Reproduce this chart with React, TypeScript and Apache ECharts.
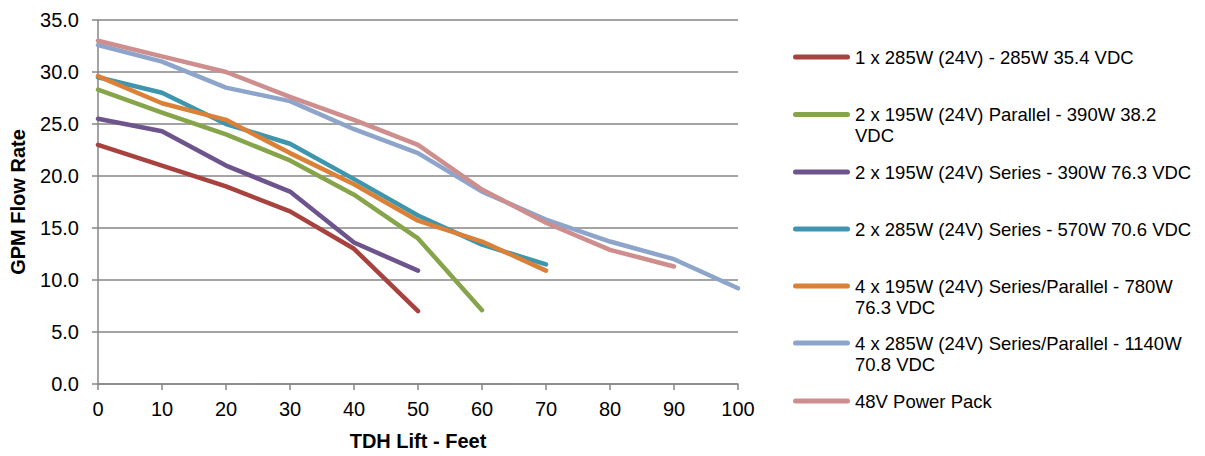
import React, { useEffect, useRef } from "react";
import * as echarts from "echarts";

const xValues = [0, 10, 20, 30, 40, 50, 60, 70, 80, 90, 100];

const seriesNames = [
  "1 x 285W (24V) - 285W 35.4 VDC",
  "2 x 195W (24V) Parallel - 390W 38.2 VDC",
  "2 x 195W (24V) Series - 390W 76.3 VDC",
  "2 x 285W (24V) Series - 570W 70.6 VDC",
  "4 x 195W (24V) Series/Parallel - 780W 76.3 VDC",
  "4 x 285W (24V) Series/Parallel - 1140W 70.8 VDC",
  "48V Power Pack",
];

const red1x285 = [23.0, 21.0, 19.0, 16.6, 13.0, 7.0];
const green2x195Par = [28.3, 26.1, 24.0, 21.5, 18.2, 14.0, 7.1];
const purple2x195Ser = [25.5, 24.3, 21.0, 18.5, 13.6, 10.9];
const teal2x285Ser = [29.5, 28.0, 25.0, 23.1, 19.7, 16.2, 13.4, 11.5];
const orange4x195 = [29.6, 27.0, 25.4, 22.2, 19.2, 15.7, 13.7, 10.9];
const blue4x285 = [32.6, 31.0, 28.5, 27.2, 24.5, 22.2, 18.5, 15.8, 13.7, 12.0, 9.2];
const pinkPowerPack = [33.0, 31.5, 30.0, 27.6, 25.4, 23.0, 18.7, 15.5, 12.9, 11.3];

const seriesValues = [
  red1x285,
  green2x195Par,
  purple2x195Ser,
  teal2x285Ser,
  orange4x195,
  blue4x285,
  pinkPowerPack,
];

// legend label line breaks (display only)
const legendLabels = [
  "1 x 285W (24V) - 285W 35.4 VDC",
  "2 x 195W (24V) Parallel - 390W 38.2\nVDC",
  "2 x 195W (24V) Series - 390W 76.3 VDC",
  "2 x 285W (24V) Series - 570W 70.6 VDC",
  "4 x 195W (24V) Series/Parallel - 780W\n76.3 VDC",
  "4 x 285W (24V) Series/Parallel - 1140W\n70.8 VDC",
  "48V Power Pack",
];

const colors = ["#A8423F", "#86A44A", "#6E548D", "#3D96AE", "#DA8137", "#8EA5CB", "#CE8E8D"];

const yTicks = [0, 5, 10, 15, 20, 25, 30, 35];

export default function App() {
  const ref = useRef<HTMLDivElement>(null);

  useEffect(() => {
    if (!ref.current) return;
    const chart = echarts.init(ref.current, undefined, { renderer: "svg" });
    const font = "'Liberation Sans', Arial, sans-serif";
    const legendCenters = [57, 114.5, 172, 229, 286, 343, 401];
    const L = 21;
    const barIcon = "path://M2.5,0 L54.5,0 A2.5,2.5 0 0 1 54.5,5 L2.5,5 A2.5,2.5 0 0 1 2.5,0 Z";
    const legends = seriesNames.map((name, i) => {
      const twoLine = legendLabels[i].includes("\n");
      const top = twoLine ? legendCenters[i] - 1.5 * L : legendCenters[i] - L / 2;
      return {
        show: true,
        orient: "vertical" as const,
        left: 793,
        top,
        padding: 0,
        itemWidth: 57,
        itemHeight: 5,
        icon: barIcon,
        data: [{ name, icon: barIcon, itemStyle: { color: colors[i] } }],
        selectedMode: false,
        // an empty first line keeps the icon level with the label's first line
        formatter: () => (twoLine ? "\n" + legendLabels[i] : legendLabels[i]),
        textStyle: {
          fontFamily: font,
          fontSize: 18.5,
          lineHeight: L,
          color: "#000",
        },
      };
    });

    chart.setOption({
      animation: false,
      color: colors,
      grid: { left: 96, right: 467, top: 20, bottom: 71, containLabel: false },
      legend: legends,
      xAxis: {
        type: "value",
        min: 0,
        max: 100,
        interval: 10,
        name: "TDH Lift - Feet",
        nameLocation: "middle",
        nameGap: 47,
        nameTextStyle: { fontFamily: font, fontSize: 20, fontWeight: "bold", color: "#000" },
        axisLine: { show: true, lineStyle: { color: "#868686", width: 1.5 } },
        axisTick: { show: true, length: 6, lineStyle: { color: "#868686", width: 1.5 } },
        axisLabel: { fontFamily: font, fontSize: 20, color: "#000", margin: 15 },
        splitLine: { show: false },
      },
      yAxis: {
        type: "value",
        min: yTicks[0],
        max: yTicks[yTicks.length - 1],
        interval: 5,
        name: "GPM Flow Rate",
        nameLocation: "middle",
        nameGap: 70,
        nameTextStyle: { fontFamily: font, fontSize: 20, fontWeight: "bold", color: "#000" },
        axisLine: { show: true, lineStyle: { color: "#868686", width: 1.5 } },
        axisTick: { show: true, length: 6, lineStyle: { color: "#868686", width: 1.5 } },
        axisLabel: {
          fontFamily: font,
          fontSize: 20,
          color: "#000",
          margin: 19,
          formatter: (v: number) => v.toFixed(1),
        },
        splitLine: { show: true, lineStyle: { color: "#868686", width: 1.5 } },
      },
      series: seriesNames.map((name, i) => ({
        name,
        type: "line",
        symbol: "none",
        lineStyle: { width: 4.5, cap: "round", join: "round", color: colors[i] },
        itemStyle: { color: colors[i] },
        data: seriesValues[i].map((v, j) => [xValues[j], v]),
      })),
    });
    return () => chart.dispose();
  }, []);

  return <div ref={ref} style={{ width: 1205, height: 456, margin: -8 }} />;
}
